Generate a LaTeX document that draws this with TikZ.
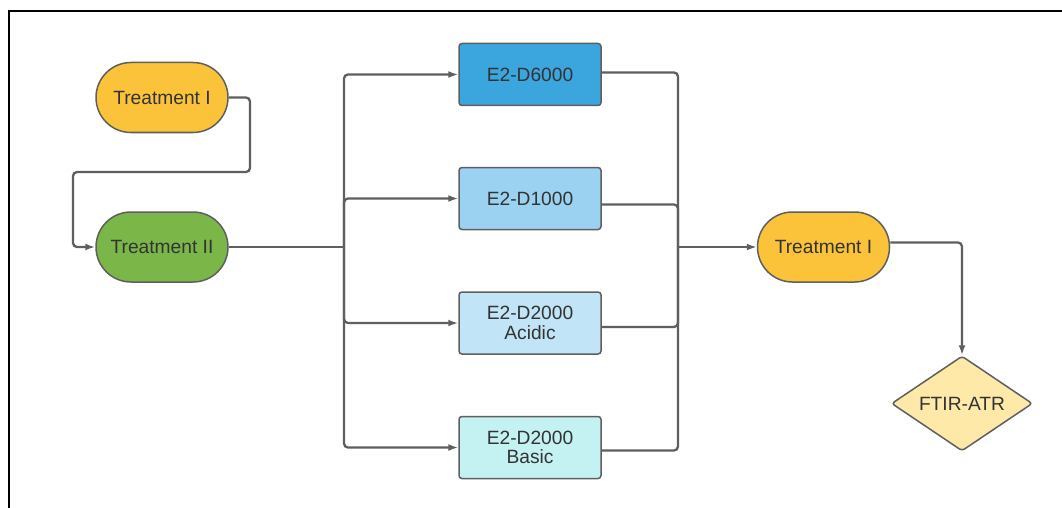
\documentclass[tikz,border=0pt]{standalone}
\usepackage{fontspec}
\setmainfont{Liberation Sans}
\usetikzlibrary{arrows.meta,shapes.geometric}
\definecolor{tyellow}{HTML}{FBC33A}
\definecolor{tgreen}{HTML}{7AB648}
\definecolor{bdark}{HTML}{3BA6DE}
\definecolor{bmid}{HTML}{9BD2F2}
\definecolor{blight}{HTML}{C2E4F7}
\definecolor{bcyan}{HTML}{C4F1F1}
\definecolor{dyellow}{HTML}{FFE9A8}
\definecolor{edge}{HTML}{5F5F5F}
\definecolor{txt}{HTML}{333333}
\tikzset{
  base/.style={draw=edge, line width=1.5pt, text=txt, font=\fontsize{19.2}{19.5}\selectfont, align=center, inner sep=0pt},
  term/.style={base, rectangle, rounded corners=35pt, minimum width=132pt, minimum height=70pt},
  boxnode/.style={base, rectangle, rounded corners=3pt, minimum width=142pt, minimum height=62pt},
  decision/.style={base, diamond, aspect=1.48, rounded corners=3pt, minimum width=141pt, minimum height=95pt},
  conn/.style={draw=edge, line width=2.3pt, rounded corners=4pt},
  arr/.style={conn, -{Latex[length=10pt,width=7pt]}}
}
\begin{document}
\begin{tikzpicture}[x=1pt,y=-1pt]
\useasboundingbox (0,0) rectangle (1062,508);
\fill[white] (0,0) rectangle (1062,508);
\draw[black, line width=2pt] (8.5,508) -- (8.5,11.5) -- (1062,11.5);

\node[term, fill=tyellow] (t1) at (162,97.5) {Treatment I};
\node[term, fill=tgreen] (t2) at (162,247) {Treatment II};
\node[boxnode, fill=bdark] (b1) at (530,74.5) {E2-D6000};
\node[boxnode, fill=bmid] (b2) at (530,198.5) {E2-D1000};
\node[boxnode, fill=blight] (b3) at (530,323) {E2-D2000\\Acidic};
\node[boxnode, fill=bcyan] (b4) at (530,447.5) {E2-D2000\\Basic};
\node[term, fill=tyellow] (t3) at (823.5,247) {Treatment I};
\node[decision, fill=dyellow] (d) at (962,403.5) {FTIR-ATR};

\coordinate (c1) at (250,97.5);
\coordinate (c2) at (250,172);
\coordinate (c3) at (73,172);
\coordinate (bl) at (344,247);
\coordinate (br) at (678,247);

\draw[arr] (t1.east) -- (c1) -- (c2) -- (c3) |- (t2.west);
\draw[conn] (t2.east) -- (bl);
\draw[arr] (bl) |- (b1.west);
\draw[arr] (bl) |- (b2.west);
\draw[arr] (bl) |- (b3.west);
\draw[arr] (bl) |- (b4.west);
\draw[conn] ([yshift=2pt]b1.east) -| (br);
\draw[conn] ([yshift=-6pt]b2.east) -| (br);
\draw[conn] ([yshift=-4pt]b3.east) -| (br);
\draw[conn] ([yshift=-3pt]b4.east) -| (br);
\draw[arr] (br) -- (t3.west);
\draw[arr] ([yshift=4.5pt]t3.east) -| (d.north);
\end{tikzpicture}
\end{document}
